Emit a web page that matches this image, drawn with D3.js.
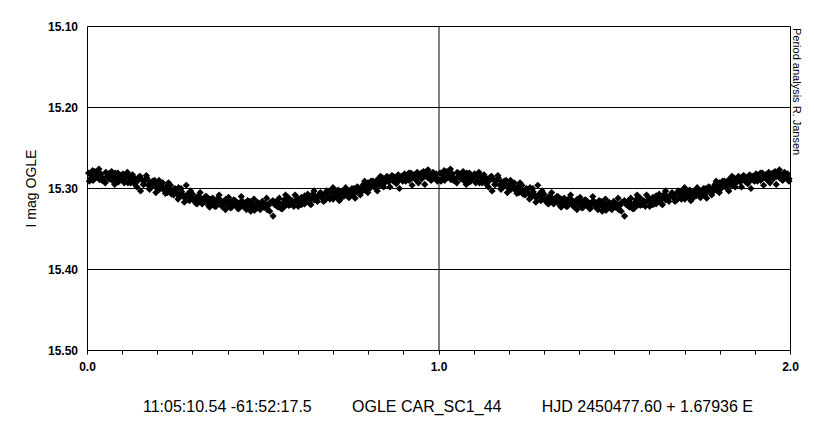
<!DOCTYPE html>
<html>
<head>
<meta charset="utf-8">
<script src="https://cdn.jsdelivr.net/npm/d3@7"></script>
<style>
html,body{margin:0;padding:0;background:#fff;}
svg{display:block;}
text{font-family:"Liberation Sans",Arial,sans-serif;fill:#000;}
</style>
</head>
<body>
<svg id="chart" width="814" height="421"></svg>
<script>
// ---- data (phase, I mag); plotted twice (phase and phase+1) ----
const phasesA = [0.003,0.008,0.012,0.016,0.021,0.025,0.029,0.034,0.038,0.043,0.047,0.052,0.056,0.061,0.065,0.070,0.074,0.079,0.083,0.088,
0.092,0.097,0.101,0.106,0.110,0.115,0.119,0.124,0.128,0.133,0.137,0.142,0.146,0.151,0.155,0.160,0.164,0.169,0.173,0.178,
0.182,0.187,0.191,0.196,0.200,0.205,0.209,0.214,0.218,0.223,0.227,0.232,0.236,0.241,0.245,0.250,0.254,0.259,0.263,0.268,
0.272,0.277,0.281,0.286,0.290,0.295,0.299,0.304,0.308,0.313,0.317,0.322,0.326,0.331,0.335,0.340,0.344,0.349,0.353,0.358,
0.362,0.367,0.371,0.376,0.380,0.385,0.389,0.394,0.398,0.403,0.407,0.412,0.416,0.421,0.425,0.430,0.434,0.439,0.443,0.448,
0.452,0.457,0.461,0.466,0.470,0.475,0.479,0.484,0.488,0.493,0.497,0.502,0.506,0.511,0.515,0.520,0.528,0.533,0.537,0.542,
0.546,0.551,0.555,0.560,0.564,0.569,0.573,0.578,0.582,0.587,0.591,0.596,0.600,0.605,0.609,0.614,0.618,0.623,0.627,0.632,
0.636,0.641,0.645,0.650,0.654,0.659,0.663,0.668,0.672,0.677,0.681,0.686,0.690,0.695,0.699,0.704,0.708,0.713,0.717,0.722,
0.726,0.731,0.735,0.740,0.744,0.749,0.753,0.758,0.762,0.767,0.771,0.776,0.780,0.785,0.789,0.794,0.798,0.803,0.807,0.812,
0.816,0.821,0.825,0.830,0.834,0.839,0.843,0.848,0.852,0.857,0.861,0.866,0.870,0.875,0.879,0.884,0.888,0.893,0.897,0.902,
0.906,0.911,0.915,0.920,0.924,0.929,0.933,0.938,0.942,0.947,0.951,0.956,0.960,0.965,0.969,0.974,0.978,0.983,0.987,0.992,0.996];
const magsA = [15.281,15.288,15.284,15.290,15.279,15.286,15.283,15.289,15.282,15.287,15.291,15.280,15.285,15.288,15.283,15.290,15.286,15.281,15.288,15.292,
15.284,15.287,15.282,15.290,15.286,15.293,15.285,15.289,15.283,15.294,15.288,15.291,15.286,15.303,15.289,15.295,15.290,15.287,15.296,15.292,
15.298,15.294,15.290,15.299,15.295,15.301,15.297,15.293,15.302,15.298,15.305,15.300,15.296,15.303,15.308,15.301,15.306,15.299,15.310,15.304,
15.308,15.312,15.296,15.309,15.315,15.311,15.307,15.314,15.318,15.310,15.316,15.312,15.319,15.314,15.310,15.317,15.321,15.313,15.318,15.315,
15.322,15.316,15.312,15.319,15.315,15.323,15.317,15.313,15.320,15.316,15.324,15.318,15.314,15.321,15.317,15.325,15.319,15.315,15.322,15.318,
15.326,15.320,15.316,15.323,15.319,15.327,15.321,15.317,15.324,15.320,15.316,15.323,15.319,15.326,15.321,15.317,15.334,15.320,15.316,15.323,
15.318,15.325,15.319,15.314,15.321,15.317,15.312,15.320,15.315,15.322,15.316,15.311,15.318,15.314,15.320,15.313,15.309,15.316,15.311,15.318,
15.312,15.307,15.314,15.310,15.316,15.309,15.305,15.312,15.308,15.314,15.306,15.311,15.303,15.309,15.313,15.305,15.310,15.302,15.307,15.312,
15.304,15.309,15.301,15.306,15.311,15.303,15.308,15.300,15.305,15.298,15.303,15.308,15.299,15.295,15.302,15.297,15.293,15.300,15.295,15.291,
15.298,15.293,15.289,15.296,15.291,15.287,15.294,15.290,15.285,15.292,15.288,15.284,15.291,15.287,15.293,15.283,15.289,15.285,15.291,15.282,
15.288,15.284,15.290,15.281,15.287,15.283,15.289,15.280,15.286,15.282,15.288,15.279,15.285,15.281,15.287,15.283,15.289,15.280,15.286,15.282,15.288];
const phasesB = [0.0055,0.0145,0.0235,0.0325,0.0415,0.0505,0.0595,0.0685,0.0775,0.0865,0.0955,0.1045,0.1135,0.1225,0.1315,0.1405,0.1495,0.1585,0.1675,0.1765,
0.1855,0.1945,0.2035,0.2125,0.2215,0.2305,0.2395,0.2485,0.2575,0.2665,0.2755,0.2845,0.2935,0.3025,0.3115,0.3205,0.3295,0.3385,0.3475,0.3565,
0.3655,0.3745,0.3835,0.3925,0.4015,0.4105,0.4195,0.4285,0.4375,0.4465,0.4555,0.4645,0.4735,0.4825,0.4915,0.5005,0.5095,0.5185,0.5275,0.5365,
0.5455,0.5545,0.5635,0.5725,0.5815,0.5905,0.5995,0.6085,0.6175,0.6265,0.6355,0.6445,0.6535,0.6625,0.6715,0.6805,0.6895,0.6985,0.7075,0.7165,
0.7255,0.7345,0.7435,0.7525,0.7615,0.7705,0.7795,0.7885,0.7975,0.8065,0.8155,0.8245,0.8335,0.8425,0.8515,0.8605,0.8695,0.8785,0.8875,0.8965,
0.9055,0.9145,0.9235,0.9325,0.9415,0.9505,0.9595,0.9685,0.9775,0.9865,0.9955];
const magsB = [15.291,15.278,15.286,15.276,15.290,15.293,15.282,15.279,15.295,15.281,15.288,15.293,15.280,15.293,15.288,15.298,15.285,15.295,15.284,15.301,
15.291,15.305,15.290,15.300,15.306,15.293,15.307,15.300,15.313,15.300,15.317,15.307,15.303,15.315,15.319,15.305,15.317,15.310,15.323,15.312,
15.322,15.308,15.318,15.326,15.311,15.323,15.315,15.325,15.310,15.321,15.315,15.328,15.313,15.324,15.326,15.318,15.312,15.328,15.315,15.321,
15.312,15.325,15.308,15.321,15.317,15.308,15.322,15.311,15.319,15.307,15.320,15.303,15.312,15.306,15.316,15.303,15.313,15.299,15.310,15.315,
15.304,15.299,15.311,15.300,15.312,15.299,15.304,15.291,15.305,15.291,15.298,15.303,15.285,15.298,15.289,15.298,15.285,15.294,15.300,15.285,
15.291,15.281,15.296,15.285,15.293,15.281,15.295,15.277,15.290,15.283,15.291];
const cycles = [0, 1];
const yTicks = [15.10, 15.20, 15.30, 15.40, 15.50];
const xLabels = [0.0, 1.0, 2.0];
const xMinor = d3.range(0, 21).map(i => i / 10);
const yTitle = "I mag OGLE";
const bottomTitle = ["11:05:10.54 -61:52:17.5", "OGLE CAR_SC1_44", "HJD 2450477.60 + 1.67936 E"];
const sideNote = "Period analysis R. Jansen";

// ---- layout ----
const L = 87.5, R = 790.5, T = 26.5, B = 350.5;
const svg = d3.select("#chart");
const x = d3.scaleLinear().domain([0, 2]).range([L, R]);
const y = d3.scaleLinear().domain([15.10, 15.50]).range([T, B]);

// horizontal gridlines
svg.append("g").selectAll("line").data(yTicks).join("line")
  .attr("x1", L).attr("x2", R)
  .attr("y1", d => y(d)).attr("y2", d => y(d))
  .attr("stroke", "#000").attr("stroke-width", 1);

// vertical line at 1.0 and right border at 2.0
svg.append("g").selectAll("line").data([1, 2]).join("line")
  .attr("x1", d => x(d)).attr("x2", d => x(d))
  .attr("y1", T).attr("y2", B)
  .attr("stroke", "#000").attr("stroke-width", 1);

// left axis line
svg.append("line").attr("x1", L).attr("x2", L).attr("y1", T).attr("y2", B)
  .attr("stroke", "#000");

// y tick labels
svg.append("g").selectAll("text").data(yTicks).join("text")
  .attr("x", 78).attr("y", d => y(d)).attr("dy", "0.35em")
  .attr("text-anchor", "end").attr("font-size", 12).attr("font-weight", "bold")
  .text(d => d3.format(".2f")(d));

// x minor ticks
svg.append("g").selectAll("line").data(xMinor).join("line")
  .attr("x1", d => Math.round(x(d) - 0.5) + 0.5).attr("x2", d => Math.round(x(d) - 0.5) + 0.5)
  .attr("y1", B).attr("y2", B + 4)
  .attr("stroke", "#000");

// x labels
svg.append("g").selectAll("text").data(xLabels).join("text")
  .attr("x", d => x(d)).attr("y", 371)
  .attr("text-anchor", "middle").attr("font-size", 12).attr("font-weight", "bold")
  .text(d => d3.format(".1f")(d));

// data points (diamonds)
const pts = [];
cycles.forEach(c => {
  phasesA.forEach((p, i) => pts.push({p: p + c, m: magsA[i]}));
  phasesB.forEach((p, i) => pts.push({p: p + c, m: magsB[i]}));
});
svg.append("g").selectAll("path").data(pts).join("path")
  .attr("transform", d => `translate(${x(d.p)},${y(d.m)})`)
  .attr("d", "M0,-3.6L3.6,0L0,3.6L-3.6,0Z")
  .attr("fill", "#000");

// y title
svg.append("text")
  .attr("transform", `translate(36,${(T + B) / 2}) rotate(-90)`)
  .attr("text-anchor", "middle").attr("font-size", 14)
  .text(yTitle);

// side note
svg.append("text")
  .attr("transform", `translate(793,28) rotate(90)`)
  .attr("text-anchor", "start").attr("font-size", 11)
  .text(sideNote);

// bottom title: three parts spread between x=143 and x=753
const bt = svg.append("g").attr("font-size", 16);
const t1 = bt.append("text").attr("x", 143).attr("y", 412).attr("text-anchor", "start").text(bottomTitle[0]);
const t3 = bt.append("text").attr("x", 753).attr("y", 412).attr("text-anchor", "end").text(bottomTitle[2]);
const e1 = 143 + t1.node().getComputedTextLength();
const s3 = 753 - t3.node().getComputedTextLength();
bt.append("text").attr("x", (e1 + s3) / 2).attr("y", 412).attr("text-anchor", "middle").text(bottomTitle[1]);
</script>
</body>
</html>
